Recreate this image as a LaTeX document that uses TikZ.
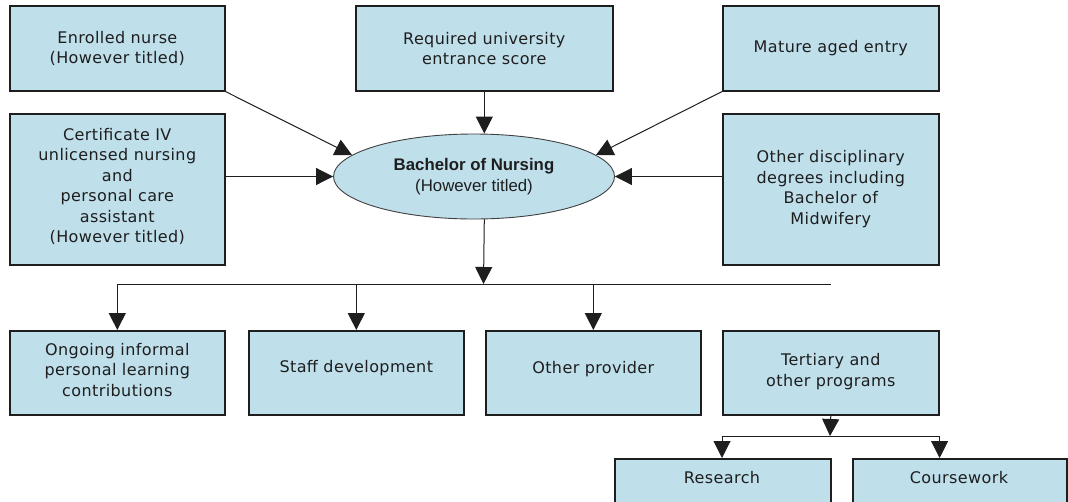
\documentclass[tikz,border=0pt]{standalone}
\usepackage{fontspec}
\setmainfont[LetterSpace=2.5]{DejaVu Sans}
\newfontfamily\arialfont{Liberation Sans}
\usetikzlibrary{arrows.meta,shapes.geometric}
\definecolor{boxfill}{RGB}{191,223,235}
\definecolor{ink}{RGB}{30,30,30}
\begin{document}
\begin{tikzpicture}[x=1pt,y=-1pt,
  box/.style={draw=ink, line width=1.6pt, fill=boxfill, inner sep=0pt, align=center,
    font=\fontsize{16}{20.5}\selectfont, text=ink, anchor=north west},
  up/.style={text depth=3pt},
  lbl/.style={inner sep=0pt, align=center, font=\fontsize{16}{20.5}\selectfont, text=ink},
  conn/.style={draw=ink, line width=1pt},
  arr/.style={conn, -{Triangle[length=17pt,width=17pt]}}]
\fill[white] (0,0) rectangle (1068,501);
\useasboundingbox (0,0) rectangle (1068,501);

% top row
\node[box, minimum width=215pt, minimum height=85pt] (enr) at (9,5) {Enrolled nurse\\(However titled)};
\node[box, minimum width=257pt, minimum height=85pt] (req) at (355,5) {Required university\\entrance score};
\node[box, minimum width=216pt, minimum height=85pt] (mat) at (722,5) {Mature aged entry};
\node[box, minimum width=215pt, minimum height=151pt, text depth=8pt] (cert) at (9,113) {Certificate IV\\unlicensed nursing\\and\\personal care\\assistant\\(However titled)};
\node[box, minimum width=216pt, minimum height=151pt] (oth) at (722,113) {Other disciplinary\\degrees including\\Bachelor of\\Midwifery};

% centre ellipse
\node[ellipse, draw=ink!85, line width=0.9pt, fill=boxfill, minimum width=281pt, minimum height=85pt,
  inner sep=0pt, align=center, text=ink, font=\arialfont\fontsize{16.8}{21}\selectfont] (bn) at (474,176.5)
  {\textbf{Bachelor of Nursing}\\(However titled)};

% bottom row
\node[box, minimum width=215pt, minimum height=84pt, text depth=6pt] (ong) at (9,330) {Ongoing informal\\personal learning\\contributions};
\node[box, minimum width=215pt, minimum height=84pt, text depth=12pt] (stf) at (248,330) {Staff development};
\node[box, minimum width=215pt, minimum height=84pt, text depth=11pt] (opr) at (485,330) {Other provider};
\node[box, minimum width=216pt, minimum height=84pt, text depth=6pt] (ter) at (722,330) {Tertiary and\\other programs};
\node[box, minimum width=216pt, minimum height=85pt] (res) at (614,458) {};
\node[box, minimum width=214pt, minimum height=85pt] (cw) at (852,458) {};
\node[lbl] (resT) at (722,478) {Research};
\node[lbl] (cwT) at (959,478) {Coursework};

% connectors into the ellipse
\draw[arr] (enr.south east) -- (bn.170);
\draw[arr] (req.south) -- (bn.north -| req.south);
\draw[arr] (mat.south west) -- (bn.10);
\draw[arr] (bn.west -| cert.east) -- (bn.west);
\draw[arr] (bn.east -| oth.west) -- (bn.east);

% distribution
\coordinate (hub) at (483.5,284);
\draw[arr] (bn.south -| req.south) -- (hub);
\draw[conn] (ong.north |- hub) -- (ter.north |- hub);
\draw[arr] (ong.north |- hub) -- (ong.north);
\draw[arr] (stf.north |- hub) -- (stf.north);
\draw[arr] (opr.north |- hub) -- (opr.north);

\coordinate (sub) at (830,436);
\draw[arr] (ter.south) -- (sub);
\draw[conn] (ter.south west |- sub) -- (ter.south east |- sub);
\draw[arr] (ter.south west |- sub) -- (res.north -| ter.south west);
\draw[arr] (ter.south east |- sub) -- (cw.north -| ter.south east);
\end{tikzpicture}
\end{document}
